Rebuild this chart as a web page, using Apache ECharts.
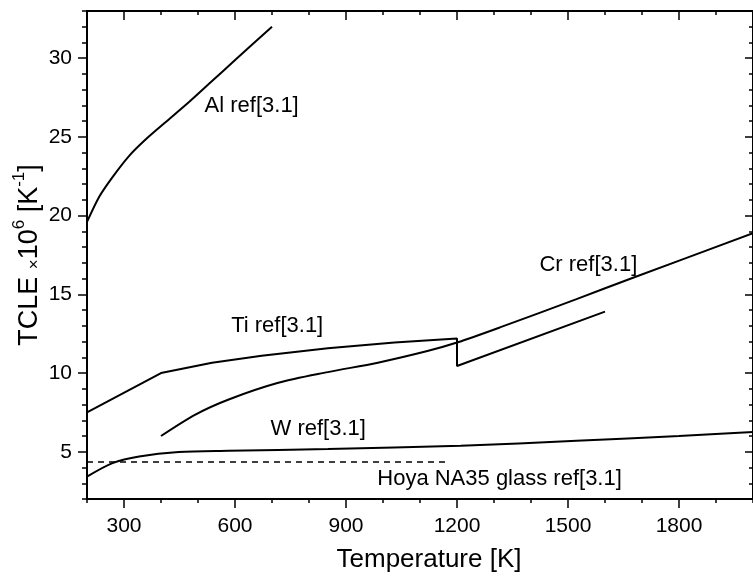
<!DOCTYPE html>
<html>
<head>
<meta charset="utf-8">
<script src="https://cdn.jsdelivr.net/npm/echarts@6/dist/echarts.min.js"></script>
<style>
html,body{margin:0;padding:0;background:#fff;}
#chart{width:753px;height:581px;}
</style>
</head>
<body>
<div id="chart"></div>
<script>
// ---- data ----
const xRange = [200, 2000];
const yRange = [2, 33];
const xMajorTicks = [300, 600, 900, 1200, 1500, 1800];
const yMajorTicks = [5, 10, 15, 20, 25, 30];

const alT = [200, 233, 269, 314, 359, 413, 475, 538, 601, 700];
const alV = [19.6, 21.2, 22.45, 23.8, 24.85, 25.95, 27.2, 28.55, 29.9, 32.0];

const tiT = [200, 400, 538, 672, 851, 1031, 1200, 1200, 1600];
const tiV = [7.5, 10.0, 10.66, 11.1, 11.57, 11.94, 12.2, 10.45, 13.9];

const crT = [400, 493, 583, 717, 851, 986, 1120, 1200, 1316, 1523, 1674, 2000];
const crV = [6.0, 7.36, 8.32, 9.38, 10.06, 10.66, 11.4, 11.94, 12.9, 14.7, 16.04, 18.88];

const wT = [200, 269, 341, 448, 583, 851, 1210, 1523, 1800, 2000];
const wV = [3.42, 4.28, 4.7, 4.98, 5.06, 5.17, 5.38, 5.7, 6.0, 6.25];

const glassT = [200, 1180];
const glassV = [4.35, 4.35];

const labelTexts = ['Al ref[3.1]', 'Ti ref[3.1]', 'W ref[3.1]', 'Cr ref[3.1]', 'Hoya NA35 glass ref[3.1]'];
const labelT = [645, 714, 825, 1555, 1315];
const labelV = [26.98, 12.98, 6.47, 16.87, 3.3];

const xTitle = 'Temperature [K]';
// ---- chart ----
const FONT = '"Liberation Sans", Arial, sans-serif';
const zip = (a, b) => a.map((v, i) => [v, b[i]]);
const chart = echarts.init(document.getElementById('chart'));

function xAx(pos, opts) {
  return Object.assign({
    type: 'value', min: xRange[0], max: xRange[1], position: pos,
    splitLine: {show: false},
    axisLine: {show: false, onZero: false},
    axisLabel: {show: false},
    axisTick: {show: false}
  }, opts);
}
function yAx(pos, opts) {
  return Object.assign({
    type: 'value', min: yRange[0], max: yRange[1], position: pos,
    splitLine: {show: false},
    axisLine: {show: false, onZero: false},
    axisLabel: {show: false},
    axisTick: {show: false}
  }, opts);
}
const lineStyleAxis = {color: '#000', width: 2};
const tickStyle = {color: '#000', width: 1.5};

const option = {
  animation: false,
  backgroundColor: '#fff',
  grid: {left: 87, right: -4, top: 11, bottom: 82, containLabel: false},
  xAxis: [
    xAx('bottom', {
      interval: 100,
      axisLine: {show: true, onZero: false, lineStyle: lineStyleAxis},
      axisTick: {show: true, inside: false, length: 4, lineStyle: tickStyle}
    }),
    xAx('bottom', {
      axisTick: {show: true, inside: false, length: 9, customValues: xMajorTicks, lineStyle: tickStyle},
      axisLabel: {show: true, customValues: xMajorTicks, margin: 17, color: '#000', fontSize: 21, fontFamily: FONT,
                  formatter: v => String(v)}
    }),
    xAx('top', {
      interval: 100,
      axisLine: {show: true, onZero: false, lineStyle: lineStyleAxis},
      axisTick: {show: true, inside: true, length: 4, lineStyle: tickStyle}
    }),
    xAx('top', {
      axisTick: {show: true, inside: true, length: 9, customValues: xMajorTicks, lineStyle: tickStyle}
    })
  ],
  yAxis: [
    yAx('left', {
      interval: 1,
      axisLine: {show: true, onZero: false, lineStyle: lineStyleAxis},
      axisTick: {show: true, inside: false, length: 5, lineStyle: tickStyle}
    }),
    yAx('left', {
      axisTick: {show: true, inside: false, length: 9, customValues: yMajorTicks, lineStyle: tickStyle},
      axisLabel: {show: true, customValues: yMajorTicks, margin: 15, color: '#000', fontSize: 21, fontFamily: FONT,
                  formatter: v => String(v)}
    }),
    yAx('right', {
      interval: 1,
      axisLine: {show: true, onZero: false, lineStyle: lineStyleAxis},
      axisTick: {show: true, inside: true, length: 4, lineStyle: tickStyle}
    }),
    yAx('right', {
      axisTick: {show: true, inside: true, length: 8, customValues: yMajorTicks, lineStyle: tickStyle}
    })
  ],
  series: [
    {name: 'Al', type: 'line', data: zip(alT, alV), smooth: 0.25, showSymbol: false, lineStyle: {color: '#000', width: 2}},
    {name: 'Ti', type: 'line', data: zip(tiT, tiV), smooth: false, showSymbol: false, lineStyle: {color: '#000', width: 2}},
    {name: 'Cr', type: 'line', data: zip(crT, crV), smooth: 0.3, showSymbol: false, lineStyle: {color: '#000', width: 2}},
    {name: 'W', type: 'line', data: zip(wT, wV), smooth: 0.3, showSymbol: false, lineStyle: {color: '#000', width: 2}},
    {name: 'Glass', type: 'line', data: zip(glassT, glassV), showSymbol: false, lineStyle: {color: '#000', width: 1.5, type: [6, 5]}}
  ]
};
chart.setOption(option);

const graphics = labelTexts.map((t, i) => {
  const p = chart.convertToPixel({xAxisIndex: 0, yAxisIndex: 0}, [labelT[i], labelV[i]]);
  return {type: 'text', x: p[0], y: p[1], style: {text: t, fill: '#000', font: '22px ' + FONT, align: 'center', verticalAlign: 'middle'}};
});
graphics.push({type: 'text', x: 429, y: 560, style: {text: xTitle, fill: '#000', font: '26px ' + FONT, align: 'center', verticalAlign: 'middle'}});
graphics.push({
  type: 'text', x: 27, y: 255, rotation: Math.PI / 2,
  style: {
    text: '{m|TCLE }{s|×}{m|10}{p|6}{m| [K}{p|-1}{m|]}',
    fill: '#000', align: 'center', verticalAlign: 'middle',
    rich: {
      m: {fontSize: 27, fontFamily: FONT, fill: '#000', lineHeight: 32, verticalAlign: 'bottom'},
      s: {fontSize: 17, fontFamily: FONT, fill: '#000', lineHeight: 32, verticalAlign: 'bottom'},
      p: {fontSize: 17, fontFamily: FONT, fill: '#000', lineHeight: 32, verticalAlign: 'top'}
    }
  }
});
chart.setOption({graphic: graphics});
</script>
</body>
</html>
